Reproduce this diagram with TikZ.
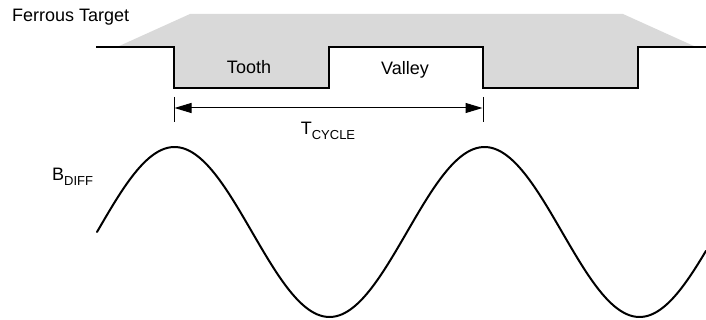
\documentclass[tikz,border=0pt]{standalone}
\usepackage{fontspec}
\setmainfont{Liberation Sans}
\usetikzlibrary{arrows.meta}
\definecolor{targetgray}{RGB}{217,217,217}
\newcommand{\subtxt}[1]{\raisebox{-0.25em}{\fontsize{13}{13}\selectfont #1}}
\begin{document}
\begin{tikzpicture}[x=1pt,y=-1pt,
  lbl/.style={inner sep=0pt,font=\fontsize{18}{21}\selectfont},
  profile/.style={line width=1.8pt,line join=miter},
  tick/.style={line width=1pt},
  dim/.style={line width=1pt,{Triangle[length=17pt,width=10pt]}-{Triangle[length=17pt,width=10pt]}},
  wave/.style={line width=2pt,line cap=round}]
\useasboundingbox (0,0) rectangle (706,320);
% gray target body
\fill[targetgray] (117,47) -- (190,14) -- (623,14) -- (696,47) -- (638,47) -- (638,88)
  -- (483,88) -- (483,47) -- (329,47) -- (329,88) -- (174,88) -- (174,47) -- cycle;
% profile line
\draw[profile] (96,47) -- (174,47) -- (174,88) -- (329,88) -- (329,47) -- (483,47)
  -- (483,88) -- (638,88) -- (638,47) -- (706,47);
% labels
\node[lbl,anchor=west] (ft) at (12,17) {Ferrous Target};
\node[lbl] (tooth) at (249,67) {Tooth};
\node[lbl] (valley) at (405,70) {Valley};
% dimension
\coordinate (t1a) at (174,97);
\coordinate (t1b) at (174,122);
\coordinate (t2a) at (483,97);
\coordinate (t2b) at (483,122);
\coordinate (d1) at (174.5,108);
\coordinate (d2) at (482.5,108);
\draw[tick] (t1a) -- (t1b);
\draw[tick] (t2a) -- (t2b);
\draw[dim] (d1) -- (d2);
\node[lbl] (tc) at (328,131) {T\subtxt{CYCLE}};
% B_DIFF
\node[lbl,anchor=west] (bd) at (52,177) {B\subtxt{DIFF}};
% wave
\draw[wave] plot[domain=97:706,samples=200,smooth] (\x,{232-85*sin((\x-97)/310*360)});
\end{tikzpicture}
\end{document}
